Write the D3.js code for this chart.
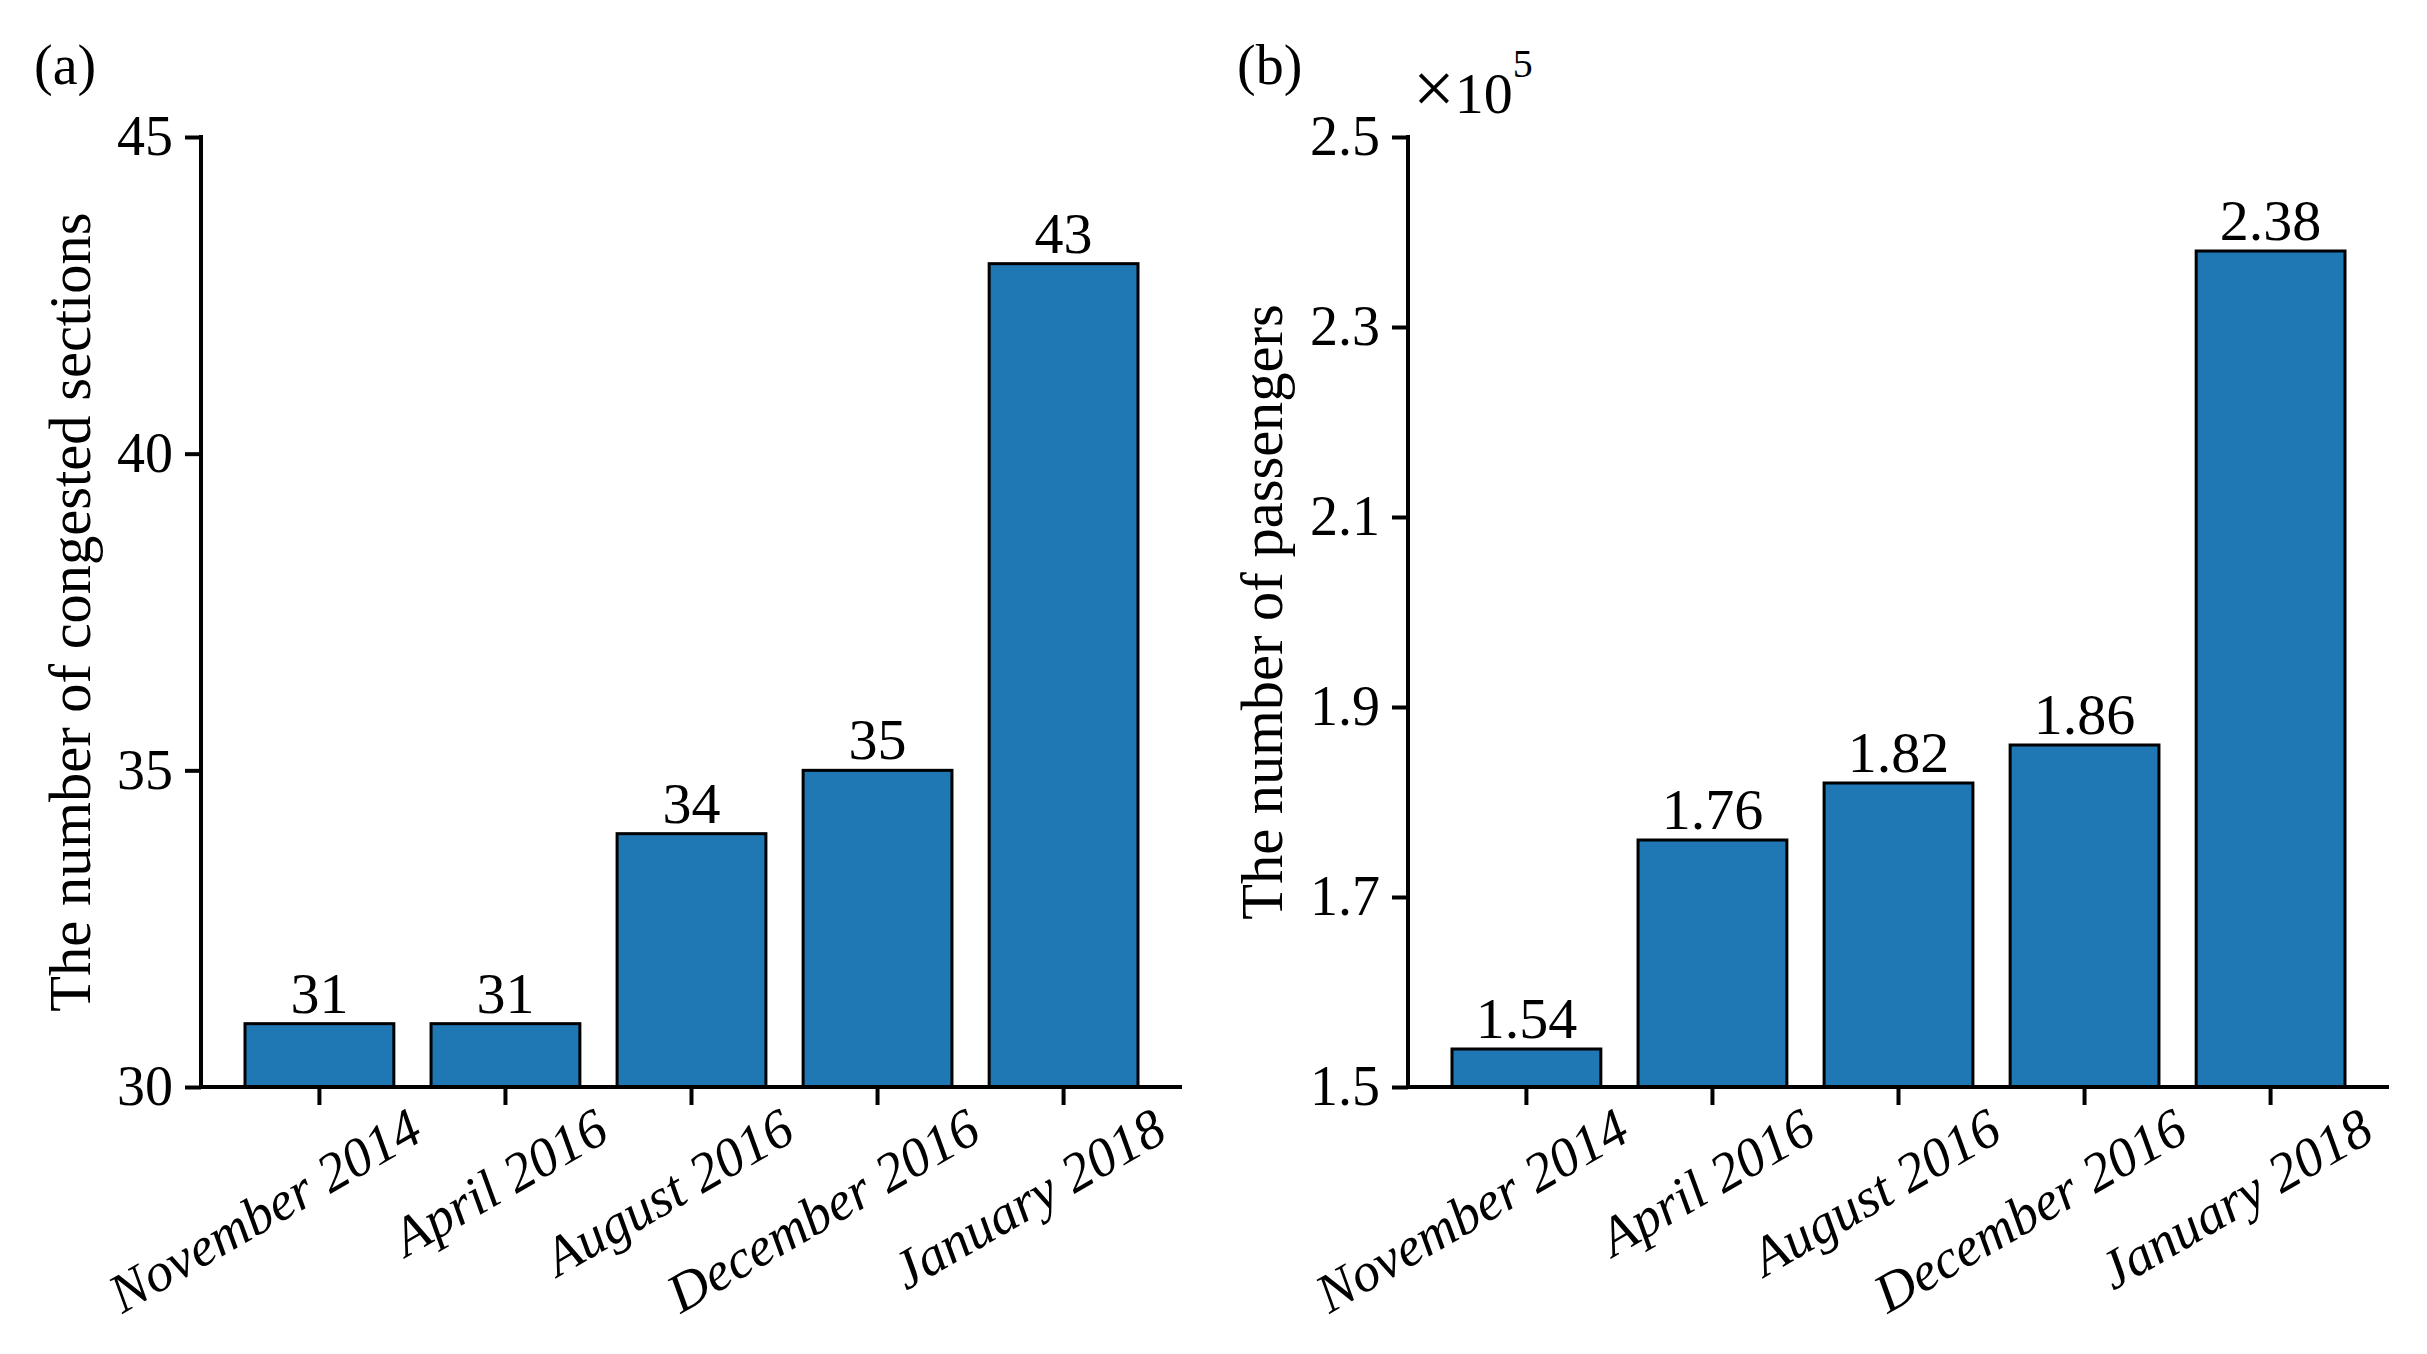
<!DOCTYPE html>
<html>
<head>
<meta charset="utf-8">
<script src="https://cdn.jsdelivr.net/npm/d3@7"></script>
<style>
    body { margin: 0; background: #fff; }
    text { font-family: "Liberation Serif", "Times New Roman", serif; fill: #000; }
</style>
</head>
<body>
<svg id="chart" width="2427" height="1354"></svg>
<script>
// data
var categories = ["November 2014", "April 2016", "August 2016", "December 2016", "January 2018"];
var congestedSections = [31, 31, 34, 35, 43];
var passengers = [1.54, 1.76, 1.82, 1.86, 2.38]; // x 10^5
var sectionTicks = [30, 35, 40, 45];
var passengerTicks = [1.5, 1.7, 1.9, 2.1, 2.3, 2.5];

var svg = d3.select("#chart");
var barColor = "#1f77b4";
var yTop = 137, yBottom = 1087;

function drawPanel(p) {
    var g = svg.append("g");

    var x = d3.scaleBand()
        .domain(categories)
        .range([p.barLeft, p.barRight])
        .paddingInner(0.2)
        .paddingOuter(0);

    var y = d3.scaleLinear()
        .domain(p.yDomain)
        .range([yBottom, yTop]);

    // bars
    g.selectAll(".bar")
        .data(p.values)
        .join("rect")
        .attr("class", "bar")
        .attr("x", function(d, i) { return x(categories[i]); })
        .attr("y", function(d) { return y(d); })
        .attr("width", x.bandwidth())
        .attr("height", function(d) { return yBottom - y(d); })
        .attr("fill", barColor)
        .attr("stroke", "#000")
        .attr("stroke-width", 3);

    // value labels
    g.selectAll(".val")
        .data(p.values)
        .join("text")
        .attr("class", "val")
        .attr("x", function(d, i) { return x(categories[i]) + x.bandwidth() / 2; })
        .attr("y", function(d) { return y(d) - 11; })
        .attr("text-anchor", "middle")
        .style("font-size", "58px")
        .text(function(d) { return p.labelFmt(d); });

    // y axis
    var yAxis = g.append("g")
        .attr("transform", "translate(" + p.axisX + ",0)")
        .call(d3.axisLeft(y).tickValues(p.ticks).tickFormat(p.tickFmt).tickSize(16).tickPadding(12));
    yAxis.select(".domain").remove();
    yAxis.selectAll(".tick line").attr("stroke", "#000").attr("stroke-width", 4);
    yAxis.selectAll(".tick text")
        .style("font-size", "56px")
        .style("font-family", "'Liberation Serif', serif")
        .attr("fill", "#000");

    // x axis ticks
    var xAxis = g.append("g")
        .attr("transform", "translate(0," + yBottom + ")")
        .call(d3.axisBottom(x).tickSize(18).tickFormat(""));
    xAxis.select(".domain").remove();
    xAxis.selectAll(".tick line").attr("stroke", "#000").attr("stroke-width", 4);

    // spines
    g.append("line")
        .attr("x1", p.axisX).attr("x2", p.axisX)
        .attr("y1", yTop - 2).attr("y2", yBottom + 2)
        .attr("stroke", "#000").attr("stroke-width", 4);
    g.append("line")
        .attr("x1", p.axisX - 2).attr("x2", p.axisRight)
        .attr("y1", yBottom).attr("y2", yBottom)
        .attr("stroke", "#000").attr("stroke-width", 4);

    // rotated category labels
    g.selectAll(".cat")
        .data(categories)
        .join("text")
        .attr("class", "cat")
        .attr("text-anchor", "end")
        .attr("transform", function(d) {
            var cx = x(d) + x.bandwidth() / 2;
            return "translate(" + (cx + 106) + "," + (yBottom + 52) + ") rotate(-30)";
        })
        .style("font-size", "55px")
        .style("font-style", "italic")
        .text(function(d) { return d; });

    // y label
    g.append("text")
        .attr("transform", "translate(" + p.ylabelX + "," + ((yTop + yBottom) / 2) + ") rotate(-90)")
        .attr("text-anchor", "middle")
        .style("font-size", "58.5px")
        .text(p.ylabel);

    // panel tag
    g.append("text")
        .attr("x", p.tagX)
        .attr("y", 84)
        .style("font-size", "56px")
        .text(p.tag);

    return g;
}

drawPanel({
    values: congestedSections,
    yDomain: [30, 45],
    ticks: sectionTicks,
    tickFmt: d3.format("d"),
    labelFmt: d3.format("d"),
    axisX: 201,
    barLeft: 245,
    barRight: 1138,
    axisRight: 1182,
    ylabel: "The number of congested sections",
    ylabelX: 90,
    tag: "(a)",
    tagX: 34
});

var gb = drawPanel({
    values: passengers,
    yDomain: [1.5, 2.5],
    ticks: passengerTicks,
    tickFmt: d3.format(".1f"),
    labelFmt: d3.format(".2f"),
    axisX: 1408,
    barLeft: 1452,
    barRight: 2345,
    axisRight: 2389,
    ylabel: "The number of passengers",
    ylabelX: 1282,
    tag: "(b)",
    tagX: 1237
});

// scale factor
var sci = gb.append("text")
    .attr("x", 1413)
    .attr("y", 113)
    .style("font-size", "58px");
sci.append("tspan").style("font-size", "74px").text("\u00d7");
sci.append("tspan").text("10");
sci.append("tspan").attr("dy", -36).style("font-size", "40px").text("5");
</script>
</body>
</html>
